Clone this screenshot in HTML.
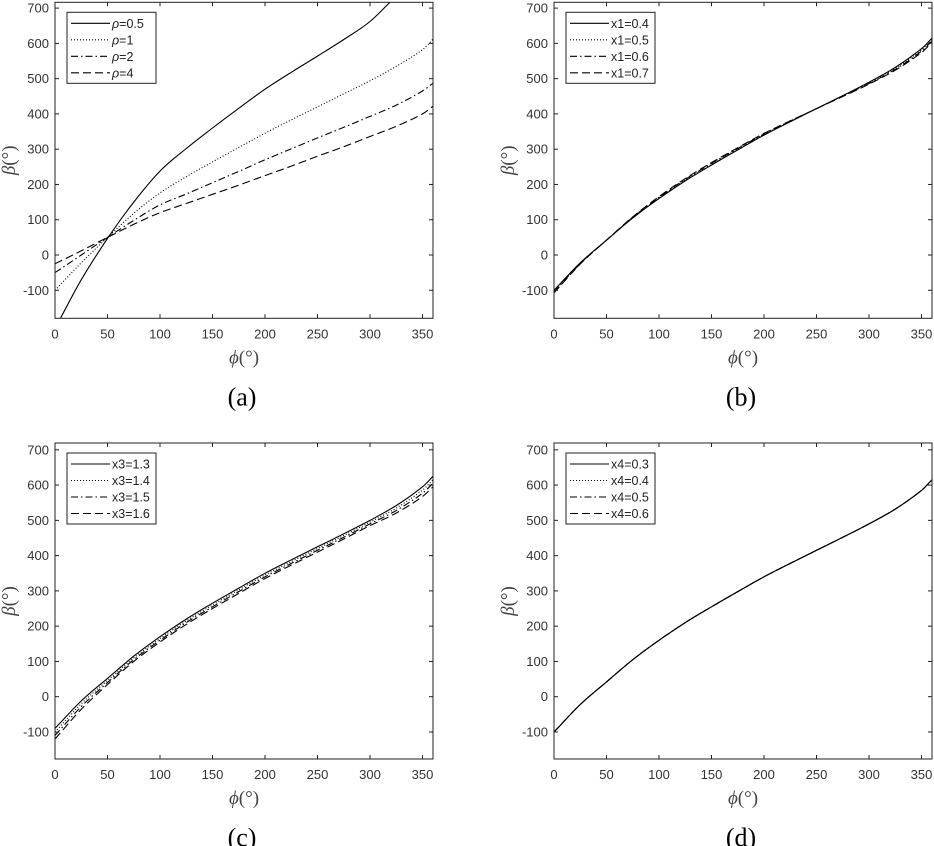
<!DOCTYPE html>
<html><head><meta charset="utf-8"><style>
html,body{margin:0;padding:0;background:#fff;}
svg{display:block;}
.t{font-family:"Liberation Sans",Arial,sans-serif;font-size:13px;fill:#333;}
.lg{font-family:"Liberation Sans",Arial,sans-serif;font-size:12.5px;fill:#222;}
</style></head><body>
<svg id="s" width="934" height="846" viewBox="0 0 934 846" xmlns="http://www.w3.org/2000/svg"></svg>
<script>
const S=document.getElementById('s');let out='';
const SERIF='font-family="Liberation Serif, Times New Roman, serif"';
const dashes=['', '1 2', '7 3 1.5 3', '8 4'];
const base={0:-100,25:-22,50:42,75:105,100:160,125:210,150:255,175:298,200:340,225:378,250:415,275:452,300:490,325:532,350:585,360:615};
function fromBase(f){const r={};for(const k in base)r[k]=base[k]+f(+k);return r;}
function path(pts,px,py){const xs=Object.keys(pts).map(Number).sort((a,b)=>a-b);const P=xs.map(x=>[px(x),py(pts[x])]);
 let d='M'+P[0][0].toFixed(1)+','+P[0][1].toFixed(1);
 for(let i=0;i<P.length-1;i++){const p0=P[Math.max(0,i-1)],p1=P[i],p2=P[i+1],p3=P[Math.min(P.length-1,i+2)];
  const h=p2[0]-p1[0];
  const m1=(p2[1]-p0[1])/(p2[0]-p0[0]||1),m2=(p3[1]-p1[1])/(p3[0]-p1[0]||1);
  const c1=[p1[0]+h/3,p1[1]+m1*h/3],c2=[p2[0]-h/3,p2[1]-m2*h/3];
  d+='C'+c1.map(v=>v.toFixed(1))+' '+c2.map(v=>v.toFixed(1))+' '+p2.map(v=>v.toFixed(1));}
 return d;}
function panel(id,L,T,Z,series,labels,cap){
 const R=L+378,B=T+316;const px=x=>L+x*378/360,py=v=>Z-v*0.3527;
 out+=`<clipPath id="c${id}"><rect x="${L}" y="${T}" width="378" height="316"/></clipPath>`;
 series.forEach((s,i)=>{out+=`<path d="${path(s,px,py)}" fill="none" stroke="#000" stroke-width="1.1" stroke-dasharray="${dashes[i]}" clip-path="url(#c${id})"/>`;});
 out+=`<rect x="${L}" y="${T}" width="378" height="316" fill="none" stroke="#222" stroke-width="1"/>`;
 for(let x=0;x<=350;x+=50){const X=px(x);out+=`<line x1="${X}" y1="${B}" x2="${X}" y2="${B-4}" stroke="#222"/><line x1="${X}" y1="${T}" x2="${X}" y2="${T+4}" stroke="#222"/><text class="t" x="${X}" y="${B+20}" text-anchor="middle">${x}</text>`;}
 for(let v=-100;v<=700;v+=100){const Y=py(v);out+=`<line x1="${L}" y1="${Y}" x2="${L+4}" y2="${Y}" stroke="#222"/><line x1="${R}" y1="${Y}" x2="${R-4}" y2="${Y}" stroke="#222"/><text class="t" x="${L-6}" y="${Y+4.5}" text-anchor="end">${v}</text>`;}
 out+=`<text ${SERIF} font-size="19" fill="#444" x="${L+189}" y="${B+45}" text-anchor="middle"><tspan font-style="italic">ϕ</tspan>(°)</text>`;
 out+=`<text ${SERIF} font-size="19" fill="#444" transform="translate(${L-40},${T+158}) rotate(-90)" text-anchor="middle"><tspan font-style="italic">β</tspan>(°)</text>`;
 out+=`<text ${SERIF} font-size="26" fill="#000" x="${L+187}" y="${B+87}" text-anchor="middle">${cap}</text>`;
 const lx=L+12,ly=T+10,lw=labels[0].length>5?89:81;
 out+=`<rect x="${lx}" y="${ly}" width="${lw}" height="71" fill="#fff" stroke="#222"/>`;
 labels.forEach((t,i)=>{const y=ly+11+i*16.5;out+=`<line x1="${lx+4}" y1="${y}" x2="${lx+43}" y2="${y}" stroke="#000" stroke-width="1.1" stroke-dasharray="${dashes[i]}"/><text class="lg" x="${lx+45}" y="${y+4.5}">${t}</text>`;});
}
const A=[
 {5:-180,25:-70,50:47,75:150,100:238,125:302,150:360,175:416,200:470,225:518,250:564,275:611,300:662,325:735},
 {0:-100,25:-22,50:50,75:118,100:176,125:222,150:264,175:305,200:345,225:383,250:420,275:457,300:494,325:535,350:582,360:612},
 {0:-50,25:0,50:50,75:98,100:142,125:173,150:205,175:237,200:270,225:301,250:332,275:362,300:393,325:425,350:465,360:487},
 {0:-25,25:12,50:50,75:87,100:120,125:146,150:172,175:198,200:225,225:252,250:280,275:307,300:336,325:365,350:400,360:422}];
const Bs=[0,1,2,3].map(i=>fromBase(x=>{let o;if(x<250)o=-i*0.5*(1-x/250)*5+i*3.5*Math.sin(Math.PI*x/250);else o=-i*4*(x-250)/110;return o;}));
const Cs2=[0,1,2,3].map(i=>fromBase(x=>{const s=x<=60?10-5*x/60:(x<=300?5:5+5*(x-300)/60);return 10-i*s;}));
const Ds=[0,1,2,3].map(()=>base);
panel('a',55,2.3,255,A,['<tspan font-style="italic">ρ</tspan>=0.5','<tspan font-style="italic">ρ</tspan>=1','<tspan font-style="italic">ρ</tspan>=2','<tspan font-style="italic">ρ</tspan>=4'],'(a)');
panel('b',554,2.3,255,Bs,['x1=0.4','x1=0.5','x1=0.6','x1=0.7'],'(b)');
panel('c',55,443,696.7,Cs2,['x3=1.3','x3=1.4','x3=1.5','x3=1.6'],'(c)');
panel('d',554,443,696.7,Ds,['x4=0.3','x4=0.4','x4=0.5','x4=0.6'],'(d)');
S.innerHTML=out;
</script>
</body></html>
